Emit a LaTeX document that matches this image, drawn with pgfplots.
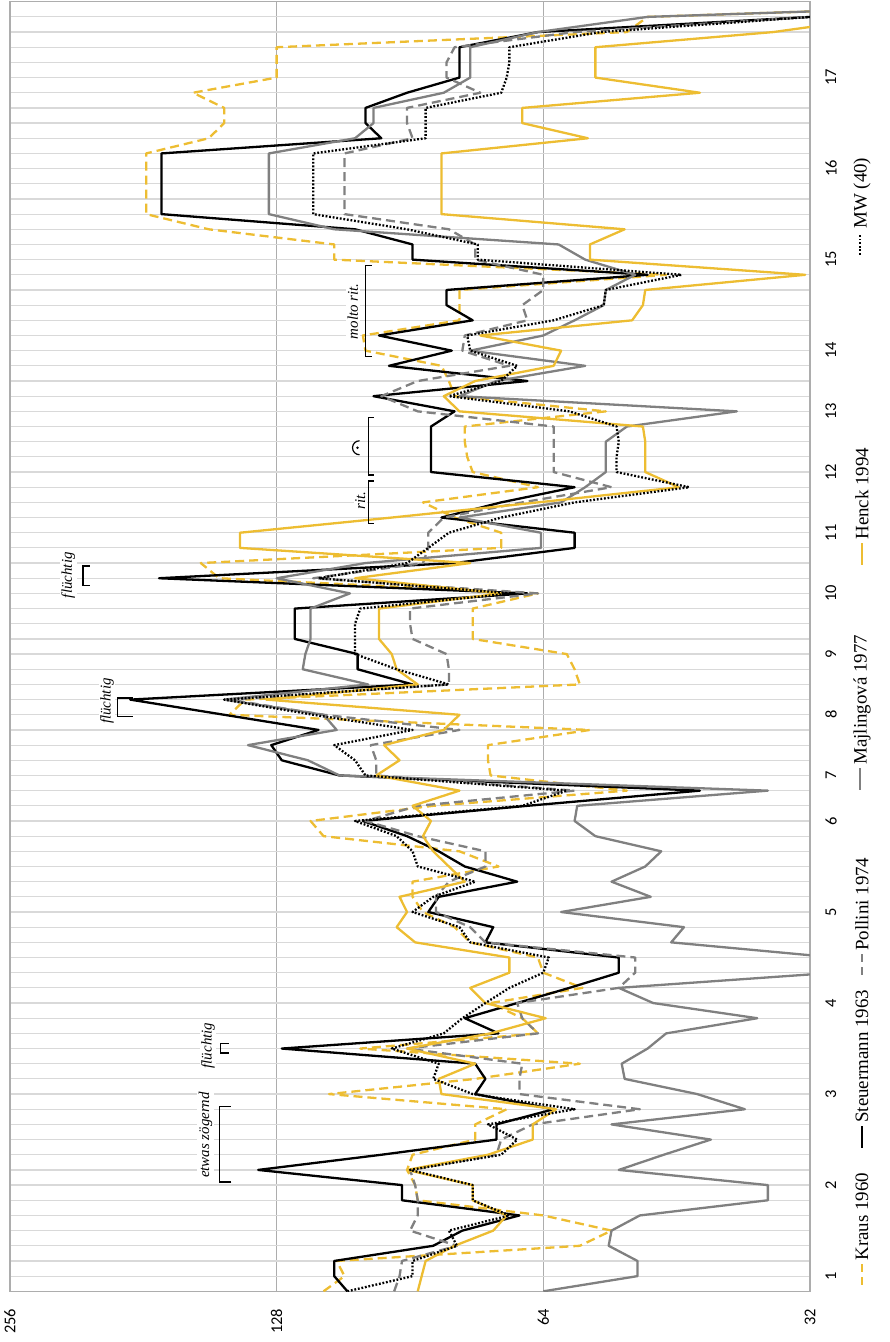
\documentclass[border=0pt]{standalone}
\usepackage{fontspec}
\setmainfont{Liberation Serif}
\newfontfamily\tickfont{Carlito}
\usepackage{pgfplots}
\usepackage{pgfplotstable}
\pgfplotsset{compat=1.18}
\definecolor{gold}{HTML}{EDBD32}
\definecolor{mgray}{HTML}{808080}
\definecolor{gridv}{HTML}{ADADAD}
\definecolor{gridh}{HTML}{D9D9D9}
\newcommand{\lsolid}[1]{\textcolor{#1}{\rule[0.28em]{22bp}{2.2bp}}}
\newcommand{\ldash}[1]{\textcolor{#1}{\rule[0.28em]{8bp}{2.2bp}\hspace{5bp}\rule[0.28em]{8bp}{2.2bp}}}
\newcommand{\ldotu}{\rule[0.28em]{1.8bp}{2.2bp}\hspace{1.8bp}}
\newcommand{\ldot}{\ldotu\ldotu\ldotu\ldotu\ldotu\rule[0.28em]{1.8bp}{2.2bp}}
\pgfplotstableread{
i K S P J H M
0 113.3 106.5 94.3 64 88.7 106.5
1 107.3 110.2 93.0 50.1 87.8 89.9
2 109.5 110.2 92.4 50.1 86.9 89.9
3 58.2 85.2 80.1 54.0 80.6 80.1
4 53.6 79.0 90.5 53.6 72.9 81.8
5 64 68.1 88.7 49.8 70.4 69.9
6 88.7 92.4 88.7 35.7 76.9 76.9
7 89.3 92.4 89.3 35.7 76.9 76.9
8 91.2 134.3 90.5 52.6 91.2 90.5
9 89.9 97.5 72.3 46.8 73.9 71.4
10 76.4 72.3 71.4 41.4 65.8 68.5
11 76.4 72.3 65.8 53.6 65.8 73.9
12 70.4 62.3 49.8 37.9 61.9 59.0
13 111.7 76.4 68.1 42.9 83.4 76.9
14 76.4 74.4 68.1 51.8 84.0 85.2
15 58.2 76.4 67.6 52.2 76.4 84.0
16 103.0 126.3 91.2 48.8 91.2 94.9
17 64.9 71.9 64.9 46.5 73.4 82.9
18 67.6 78.5 67.6 36.7 63.6 79.0
19 73.4 68.5 68.5 48.1 74.4 74.4
20 57.8 59.8 52.6 52.6 77.4 69.9
21 64 52.6 50.4 30 69.9 64
22 64.9 52.6 50.4 30 69.9 63.1
23 77.4 74.4 74.4 45.9 89.3 77.4
24 80.6 72.9 77.4 44.4 93.7 79.6
25 87.5 86.3 84.6 61.1 91.2 89.9
26 89.9 84.0 84.6 48.4 93.0 85.2
27 89.9 68.5 81.8 53.6 78.5 76.4
28 71.9 78.5 74.4 49.1 81.8 88.7
29 79.6 84.0 74.4 47.1 85.2 89.9
30 113.3 91.2 88.7 55.9 87.5 93.7
31 117.2 102.3 101.6 59.0 85.7 104.4
32 85.2 66.7 88.7 58.6 89.9 67.6
33 51.5 42.6 59.0 35.7 79.6 60.2
34 73.4 108.7 98.8 108.7 98.8 101.6
35 73.9 126.3 98.8 118.0 93.0 104.4
36 73.9 129.8 100.2 137.9 96.8 110.2
37 56.7 114.8 79.6 109.5 82.9 89.9
38 144.7 146.7 113.3 113.3 79.6 116.4
39 138.9 187.3 144.7 146.7 131.5 146.7
40 58.2 89.9 81.8 100.9 88.7 81.8
41 59.0 103.7 81.8 119.6 93.7 93.7
42 60.2 103.7 82.3 118.8 94.9 104.4
43 76.9 122.1 89.9 117.2 98.1 104.4
44 76.9 122.1 90.5 117.2 98.1 104.4
45 76.9 122.1 90.5 117.2 98.1 103.0
46 64.9 66.7 64.9 105.8 71.4 69.4
47 148.6 173.8 116.4 128 104.4 114.8
48 155.9 80.6 87.5 101.6 77.4 91.2
49 71.4 59.0 86.3 64.4 140.8 86.3
50 71.4 59.0 86.3 64.4 140.8 81.8
51 80.6 83.4 82.9 79.6 94.9 71.4
52 87.5 71.4 67.6 61.1 64.9 59.0
53 64.9 59.0 53.6 57.4 45.0 43.8
54 76.9 85.7 62.3 54.4 49.1 52.9
55 78.0 85.7 62.3 54.4 49.1 52.9
56 78.5 85.7 62.3 54.4 49.1 52.6
57 78.5 85.7 62.3 51.5 49.4 52.9
58 54.4 80.6 88.7 38.7 79.6 59.8
59 80.6 99.5 97.5 79.6 82.9 81.8
60 81.8 66.7 88.7 72.3 76.4 71.4
61 83.4 95.6 69.9 57.4 62.3 68.5
62 101.6 81.2 79.0 77.4 61.1 77.4
63 102.3 98.1 78.5 64 75.4 78.0
64 79.6 76.9 66.7 59.0 50.8 62.3
65 79.6 82.3 67.6 54.7 49.4 54.7
66 79.6 82.3 64 54.4 49.1 54.4
67 46.5 48.8 64 50.4 32.4 44.7
68 110.2 89.9 76.4 57.4 56.7 75.9
69 110.2 89.9 76.4 61.5 56.7 75.9
70 152.7 104.4 81.8 110.2 51.8 91.2
71 179.7 172.7 107.3 130.6 83.4 116.4
72 179.7 172.7 107.3 130.6 83.4 116.4
73 179.7 172.7 107.3 130.6 83.4 116.4
74 179.7 172.7 107.3 130.6 83.4 116.4
75 179.7 172.7 107.3 130.6 83.4 116.4
76 152.7 97.5 89.9 104.4 57.0 86.9
77 146.7 101.6 91.2 99.5 67.6 86.9
78 146.7 101.6 91.2 99.5 67.6 86.9
79 159.1 91.2 75.4 82.9 42.6 71.4
80 128 79.6 82.3 77.4 55.9 70.4
81 128 79.6 82.3 77.4 55.9 69.9
82 128 79.6 80.6 77.4 55.9 69.9
83 51.5 64.9 59.0 64.9 35.2 55.1
84 48.8 31.9 31.9 48.8 26.5 31.9
85 15 nan nan 15 nan nan
}\data
\begin{document}
\begin{tikzpicture}
\useasboundingbox (-10bp,-50.7bp) rectangle (880bp,1291.3bp);
\begin{axis}[
  at={(0,0)}, anchor=south west,
  scale only axis, width=800bp, height=1289.6bp,
  clip mode=individual,
  xmode=log, x dir=reverse,
  xmin=32, xmax=256, ymin=0, ymax=85,
  xtick={32,64,128,256}, xticklabels={32,64,128,256},
  ytick={1,7,13,19,25,31,34,38,42,46,50,54,58,62,68,74,80},
  yticklabels={1,2,3,4,5,6,7,8,9,10,11,12,13,14,15,16,17},
  minor ytick={0,1,...,85},
  yminorgrids=true, xmajorgrids=true, ymajorgrids=false,
  minor grid style={gridh, line width=1.2bp},
  major grid style={gridv, line width=1.2bp},
  axis line style={gridv, line width=1.2bp},
  major tick length=0pt, minor tick length=0pt,
  yticklabel pos=right,
  xticklabel style={rotate=90, anchor=east, font=\tickfont\fontsize{16.5}{16.5}\selectfont},
  yticklabel style={rotate=90, anchor=north, font=\tickfont\fontsize{16.5}{16.5}\selectfont},
  xticklabel shift=14bp, yticklabel shift=12bp,
  every axis plot/.append style={line width=2.3bp, line join=round},
]
\addplot[gold, dash pattern=on 9bp off 5bp] table[x=K,y=i] {\data};
\addplot[black] table[x=S,y=i] {\data};
\addplot[mgray, dash pattern=on 9bp off 5bp] table[x=P,y=i] {\data};
\addplot[mgray] table[x=J,y=i] {\data};
\addplot[gold] table[x=H,y=i] {\data};
\addplot[black, dash pattern=on 1.8bp off 1.8bp] table[x=M,y=i] {\data};
% annotations
\begin{scope}[line width=1.3bp]
\draw (axis cs:144,7.2) -- (axis cs:148.6,7.2) -- (axis cs:148.6,12.2) -- (axis cs:144,12.2);
\draw (axis cs:145,15.7) -- (axis cs:148,15.7) -- (axis cs:148,16.35) -- (axis cs:145,16.35);
\draw (axis cs:186,37.9) -- (axis cs:193.7,37.9) -- (axis cs:193.7,39.1) -- (axis cs:186,39.1);
\draw (axis cs:208,46.5) -- (axis cs:211.7,46.5) -- (axis cs:211.7,47.8) -- (axis cs:208,47.8);
\draw (axis cs:99.5,50.6) -- (axis cs:100.9,50.6) -- (axis cs:100.9,53.4) -- (axis cs:99.5,53.4);
\draw (axis cs:99.5,53.8) -- (axis cs:100.9,53.8) -- (axis cs:100.9,57.6) -- (axis cs:99.5,57.6);
\draw (axis cs:99.9,61.6) -- (axis cs:101.6,61.6) -- (axis cs:101.6,67.6) -- (axis cs:99.9,67.6);
\end{scope}
\begin{scope}[every node/.style={rotate=90, font=\itshape\fontsize{15}{15}\selectfont, fill=white, inner sep=1.5bp}]
\node at (axis cs:154,10.3) {etwas zögernd};
\node at (axis cs:153,16.2) {flüchtig};
\node at (axis cs:199,38.9) {flüchtig};
\node at (axis cs:220,47.2) {flüchtig};
\node at (axis cs:103,52.1) {rit.};
\node at (axis cs:105,64.6) {molto rit.};
\end{scope}
\draw[line width=1.2bp] ([xshift=3bp,yshift=7bp]axis cs:104,55.6) arc[start angle=90,end angle=270,radius=7bp];
\fill ([xshift=1bp]axis cs:104,55.6) circle[radius=1.4bp];
% legend
\begin{scope}[every node/.style={rotate=90, anchor=west, inner sep=0pt, font=\fontsize{19}{19}\selectfont}]
\node at (axis description cs:1.065,0.0049) {\ldash{gold}\,Kraus 1960};
\node at (axis description cs:1.065,0.1111) {\lsolid{black}\,Steuermann 1963};
\node at (axis description cs:1.065,0.2453) {\ldash{mgray}\,Pollini 1974};
\node at (axis description cs:1.065,0.3887) {\lsolid{mgray}\,Majlingová 1977};
\node at (axis description cs:1.065,0.5632) {\lsolid{gold}\,Henck 1994};
\node at (axis description cs:1.065,0.8036) {\ldot\,\,MW (40)};
\end{scope}
\end{axis}
\end{tikzpicture}
\end{document}
